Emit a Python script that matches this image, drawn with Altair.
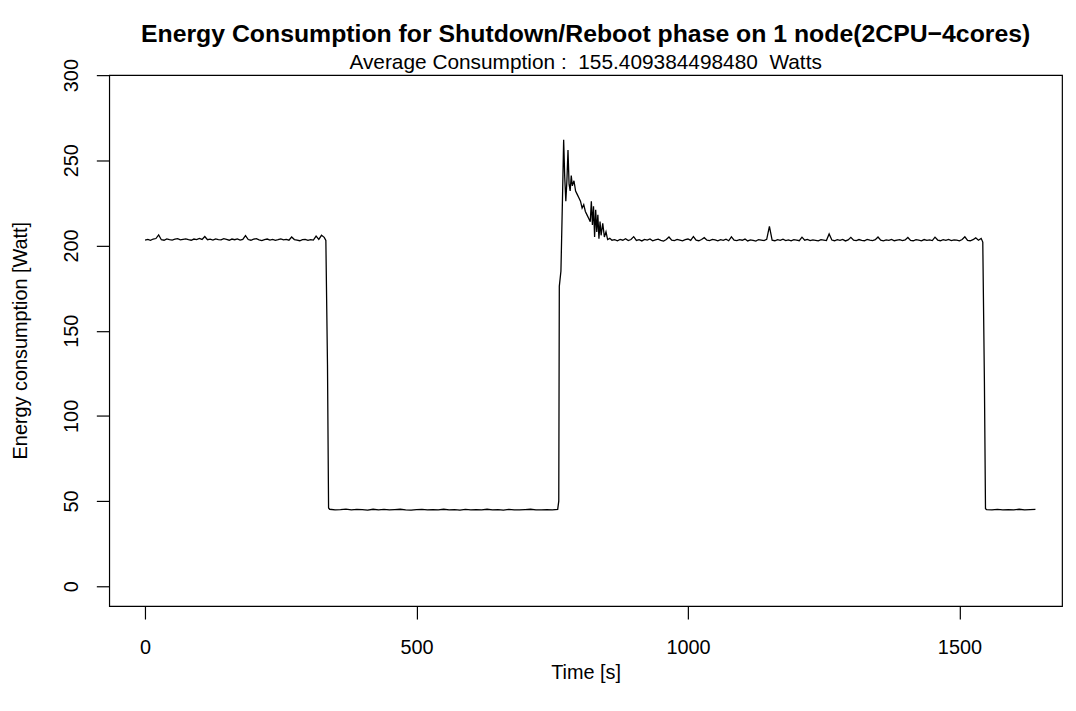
import altair as alt
import pandas as pd

# --- data ---
# running phase before shutdown, sampled every 5 s from 0 to 330 s
run1_time = list(range(0, 335, 5))
run1_watts = [
    203.2, 203.6, 203.0, 203.8, 204.1, 206.2, 203.4, 203.1, 203.9, 203.5,
    203.2, 203.7, 204.0, 203.3, 203.6, 203.9, 203.4, 203.1, 203.8, 203.5,
    204.2, 203.6, 205.3, 203.4, 203.7, 203.2, 203.9, 203.5, 203.3, 204.0,
    203.6, 203.1, 203.8, 203.4, 203.9, 203.2, 203.6, 205.8, 203.5, 203.1,
    203.7, 204.0, 203.3, 202.9, 203.5, 203.8, 203.2, 203.6, 203.0, 203.4,
    203.9, 203.3, 203.6, 203.1, 205.0, 203.5, 203.2, 202.8, 203.4, 203.6,
    203.0, 203.5, 203.2, 205.5, 203.6, 206.0, 204.8,
]

drop1_time = [333, 336, 338]
drop1_watts = [203.0, 130.0, 46.0]

# node off, sampled every 10 s from 340 to 760 s
off1_time = list(range(340, 770, 10))
off1_watts = [
    45.2, 44.9, 45.0, 45.3, 44.8, 45.1, 45.0, 44.7, 45.2, 44.9,
    45.1, 44.8, 45.0, 45.2, 44.9, 44.7, 45.0, 45.1, 44.8, 45.0,
    44.9, 45.2, 44.8, 45.0, 44.7, 45.1, 44.9, 45.0, 44.8, 45.2,
    44.9, 45.0, 44.7, 45.1, 44.9, 44.8, 45.0, 45.2, 44.9, 44.8,
    45.0, 44.9, 45.1,
]

# reboot peak
boot_time = [762, 763, 766, 769, 771, 773, 775, 777, 779, 781,
             783, 785, 787, 790, 793, 796, 799, 802, 805, 808,
             811, 814, 817, 820, 822, 824, 826, 828, 830, 832,
             834, 836, 838, 840, 843, 846, 849, 852, 856, 860]
boot_watts = [50.0, 176.0, 185.0, 230.0, 262.0, 240.0, 226.0, 238.0, 256.0, 236.0,
              232.0, 241.0, 235.0, 238.0, 232.0, 230.0, 228.0, 226.0, 222.0, 224.0,
              220.0, 218.0, 216.0, 214.0, 226.0, 212.0, 223.0, 205.0, 221.0, 208.0,
              218.0, 204.0, 214.0, 206.0, 213.0, 205.0, 208.0, 203.5, 204.2, 203.1]

# running phase after reboot, sampled every 5 s from 865 to 1540 s
run2_time = list(range(865, 1545, 5))
run2_watts = [
    203.4, 202.8, 203.6, 203.1, 204.0, 202.9, 203.5, 205.2, 203.0, 203.4,
    202.7, 203.6, 203.2, 203.9, 202.8, 203.3, 203.7, 203.0, 202.6, 203.5,
    205.0, 203.1, 202.9, 203.6, 203.2, 202.7, 203.4, 203.8, 203.0, 205.3,
    203.2, 202.8, 203.5, 204.6, 203.1, 202.9, 203.6, 203.3, 202.7, 203.4,
    203.0, 203.7, 202.8, 205.1, 203.2, 202.9, 203.5, 203.1, 203.8, 202.7,
    203.3, 203.0, 202.6, 203.5, 203.2, 202.9, 203.6, 211.3, 203.1, 202.8,
    203.4, 203.0, 203.7, 202.9, 203.3, 202.7, 203.5, 203.2, 202.8, 204.9,
    203.1, 203.6, 202.9, 203.3, 203.0, 202.7, 203.5, 203.2, 202.9, 206.8,
    203.2, 202.8, 203.4, 203.0, 203.6, 202.7, 203.3, 204.8, 203.1, 202.9,
    203.5, 203.0, 202.8, 203.6, 203.2, 202.9, 203.4, 205.0, 203.1, 202.7,
    203.3, 203.0, 203.6, 202.8, 203.2, 203.5, 202.9, 203.3, 204.7, 203.0,
    202.8, 203.4, 203.1, 202.7, 203.5, 203.0, 203.3, 202.9, 204.9, 203.2,
    202.8, 203.4, 203.0, 203.6, 202.9, 203.3, 203.1, 202.7, 203.5, 205.1,
    203.0, 202.8, 203.4, 204.5, 203.1, 204.2,
]

drop2_time = [1543, 1546, 1548]
drop2_watts = [202.0, 120.0, 45.5]

# node off again, sampled every 10 s from 1550 to 1640 s
off2_time = list(range(1550, 1650, 10))
off2_watts = [45.0, 44.8, 45.1, 44.9, 45.0, 44.8, 45.2, 44.9, 45.0, 45.1]

x_ticks = [0, 500, 1000, 1500]
y_ticks = [0, 50, 100, 150, 200, 250, 300]

title_text = "Energy Consumption for Shutdown/Reboot phase on 1 node(2CPU\u22124cores)"
subtitle_text = "Average Consumption :\u00a0 155.409384498480\u00a0 Watts"

times = run1_time + drop1_time + off1_time + boot_time + run2_time + drop2_time + off2_time
watts = run1_watts + drop1_watts + off1_watts + boot_watts + run2_watts + drop2_watts + off2_watts
df = pd.DataFrame({"t": times, "w": watts})

FONT = "Liberation Sans"
FS = 20

chart = alt.Chart(df).mark_line(color="black", strokeWidth=1.3, clip=True).encode(
    x=alt.X("t:Q",
            scale=alt.Scale(domain=[-66, 1689], nice=False, zero=False),
            axis=alt.Axis(values=x_ticks, format="d", title="Time [s]", grid=False,
                          domain=False, tickSize=13, tickColor="black", tickWidth=1.2,
                          labelFontSize=FS, labelFont=FONT, labelColor="black",
                          labelPadding=19, labelFlush=False,
                          titleFontSize=FS, titleFont=FONT, titleFontWeight="normal",
                          titleColor="black", titlePadding=5)),
    y=alt.Y("w:Q",
            scale=alt.Scale(domain=[-11.65, 300], nice=False, zero=False),
            axis=alt.Axis(values=y_ticks, format="d", title="Energy consumption [Watt]",
                          grid=False, domain=False, tickSize=13, tickColor="black",
                          tickWidth=1.2, labelFontSize=FS, labelFont=FONT,
                          labelColor="black", labelAngle=270, labelAlign="center",
                          labelBaseline="bottom", labelPadding=15, labelFlush=False,
                          titleFontSize=FS, titleFont=FONT, titleFontWeight="normal",
                          titleColor="black", titleAngle=270, titleX=-89, titleY=267,
                          titleAlign="center", titleBaseline="middle")),
).properties(
    width=960,
    height=535,
    autosize=alt.AutoSizeParams(type="none"),
    padding={"left": 102, "top": 65, "right": 6, "bottom": 100},
    title=alt.TitleParams(text=title_text, subtitle=subtitle_text,
                          font=FONT, fontSize=25, fontWeight="bold", color="black",
                          subtitleFont=FONT, subtitleFontSize=21, subtitleColor="black",
                          subtitleFontWeight="normal", subtitlePadding=6,
                          anchor="middle", offset=1, dy=16),
).configure(
    background="white",
    view=alt.ViewConfig(stroke="black", strokeWidth=1.2),
)

chart.save("out.html", embed_options={"renderer": "svg", "actions": False})
